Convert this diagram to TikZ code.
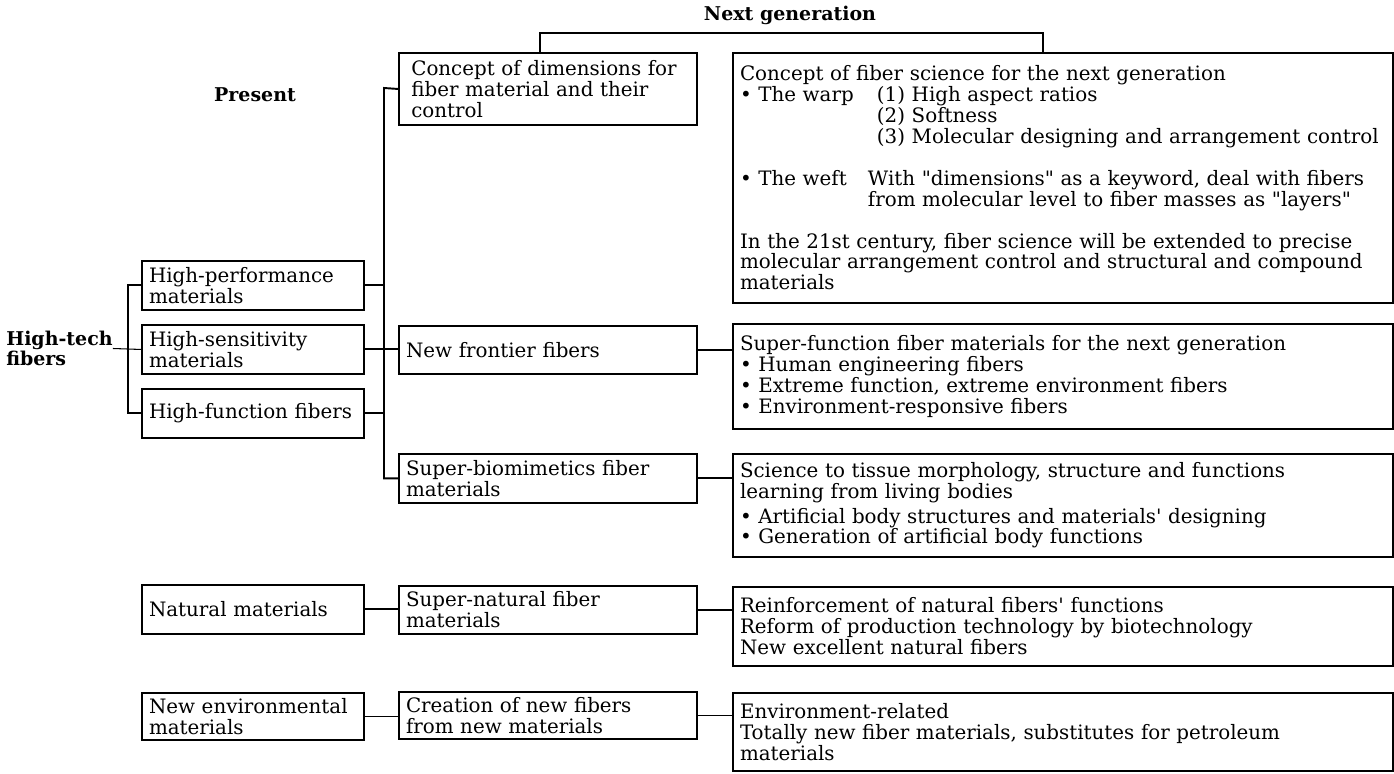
\documentclass[tikz,border=0pt]{standalone}
\usepackage{fontspec}
\setmainfont{DejaVu Serif}[Ligatures=TeXOff]
\usepackage{tikz}
\usetikzlibrary{positioning,calc}

\newlength\warpind
\setlength\warpind{2.74cm}
\newlength\weftind
\setlength\weftind{2.56cm}

\begin{document}
\begin{tikzpicture}[x=0.02cm,y=-0.02cm,
  font=\fontsize{11.3}{11.9}\selectfont,
  box/.style={draw,line width=1.1pt,anchor=north west,align=left,inner xsep=4pt,inner ysep=0pt},
  pres/.style={box,minimum width=4.44cm,text width=4.158cm,minimum height=0.98cm},
  nxt/.style={box,minimum width=5.96cm,text width=5.678cm,minimum height=0.98cm},
  expl/.style={box,minimum width=13.2cm,text width=12.918cm},
  head/.style={font=\fontsize{10.8}{11.5}\selectfont\bfseries,inner sep=0pt,align=left},
  link/.style={line width=1.1pt}]
\useasboundingbox (0,0) rectangle (1394,774);

% ---- headings ----
\node[head] (ng) at (790,15) {Next generation};
\node[head] (pr) at (255,95) {Present};
\node[head,anchor=west] (ht) at (6,348.5) {High-tech\\fibers};

% ---- present materials ----
\node[pres] (hp) at (141,260) {High-performance\\materials};
\node[pres] (hs) at (141,324) {High-sensitivity\\materials};
\node[pres] (hf) at (141,388) {High-function fibers};
\node[pres] (nat) at (141,584) {Natural materials};
\node[pres,minimum height=0.94cm] (ne) at (141,692) {New environmental\\materials};

% ---- next generation fibers ----
\node[nxt,minimum height=1.44cm,inner xsep=7pt,text width=5.466cm] (cd) at (398,52)
  {Concept of dimensions for\\fiber material and their\\control};
\node[nxt,minimum height=0.96cm] (nf) at (398,325) {New frontier fibers};
\node[nxt] (sb) at (398,453) {Super-biomimetics fiber\\materials};
\node[nxt,minimum height=0.96cm] (sn) at (398,585) {Super-natural fiber\\materials};
\node[nxt,minimum height=0.94cm] (cr) at (398,691) {Creation of new fibers\\from new materials};

% ---- contents ----
\node[expl,minimum height=5cm] (big) at (732,52)
  {Concept of fiber science for the next generation\\
   \makebox[\warpind][l]{\textbullet\ The warp}(1) High aspect ratios\\
   \hspace*{\warpind}(2) Softness\\
   \hspace*{\warpind}\mbox{(3) Molecular designing and arrangement control}\\[11.9pt]
   \makebox[\weftind][l]{\textbullet\ The weft}\mbox{With "dimensions" as a keyword, deal with fibers}\\
   \hspace*{\weftind}from molecular level to fiber masses as "layers"\\[11.9pt]
   In the 21st century, fiber science will be extended to precise\\
   \mbox{molecular arrangement control and structural and compound}\\
   materials};
\node[expl,minimum height=2.1cm] (sf) at (732,323)
  {Super-function fiber materials for the next generation\\
   \textbullet\ Human engineering fibers\\
   \textbullet\ Extreme function, extreme environment fibers\\
   \textbullet\ Environment-responsive fibers};
\node[expl,minimum height=2.06cm] (sc) at (732,453)
  {Science to tissue morphology, structure and functions\\
   learning from living bodies\\[2pt]
   \textbullet\ Artificial body structures and materials' designing\\
   \textbullet\ Generation of artificial body functions};
\node[expl,minimum height=1.58cm] (rf) at (732,586)
  {Reinforcement of natural fibers' functions\\
   Reform of production technology by biotechnology\\
   New excellent natural fibers};
\node[expl,minimum height=1.56cm] (ev) at (732,692)
  {Environment-related\\
   Totally new fiber materials, substitutes for petroleum\\
   materials};

% ---- brackets and links ----
\coordinate (nl) at (540,33);
\coordinate (nr) at (1043,33);
\draw[link] (nl |- cd.north) -- (nl) -- (nr) -- (nr |- big.north);

\draw[line width=0.6pt] (ht.east) -- (hs.west);
\draw[link] (hp.west) -- ++(-13,0) |- (hf.west);

\coordinate (tr) at (384,88);
\draw[link] (cd.west) -- (tr) |- (sb.west);
\draw[link] (hp.east) -- (hp.east -| tr);
\draw[link] (hf.east) -- (hf.east -| tr);
\draw[link] (hs.east) -- (hs.east -| nf.west);

\draw[link] (nf.east) -- (nf.east -| sf.west);
\draw[link] (sb.east) -- (sb.east -| sc.west);
\draw[link] (nat.east) -- (nat.east -| sn.west);
\draw[link] (sn.east) -- (sn.east -| rf.west);
\draw[link] (ne.east) -- (ne.east -| cr.west);
\draw[link] (cr.east) -- (cr.east -| ev.west);
\end{tikzpicture}
\end{document}
